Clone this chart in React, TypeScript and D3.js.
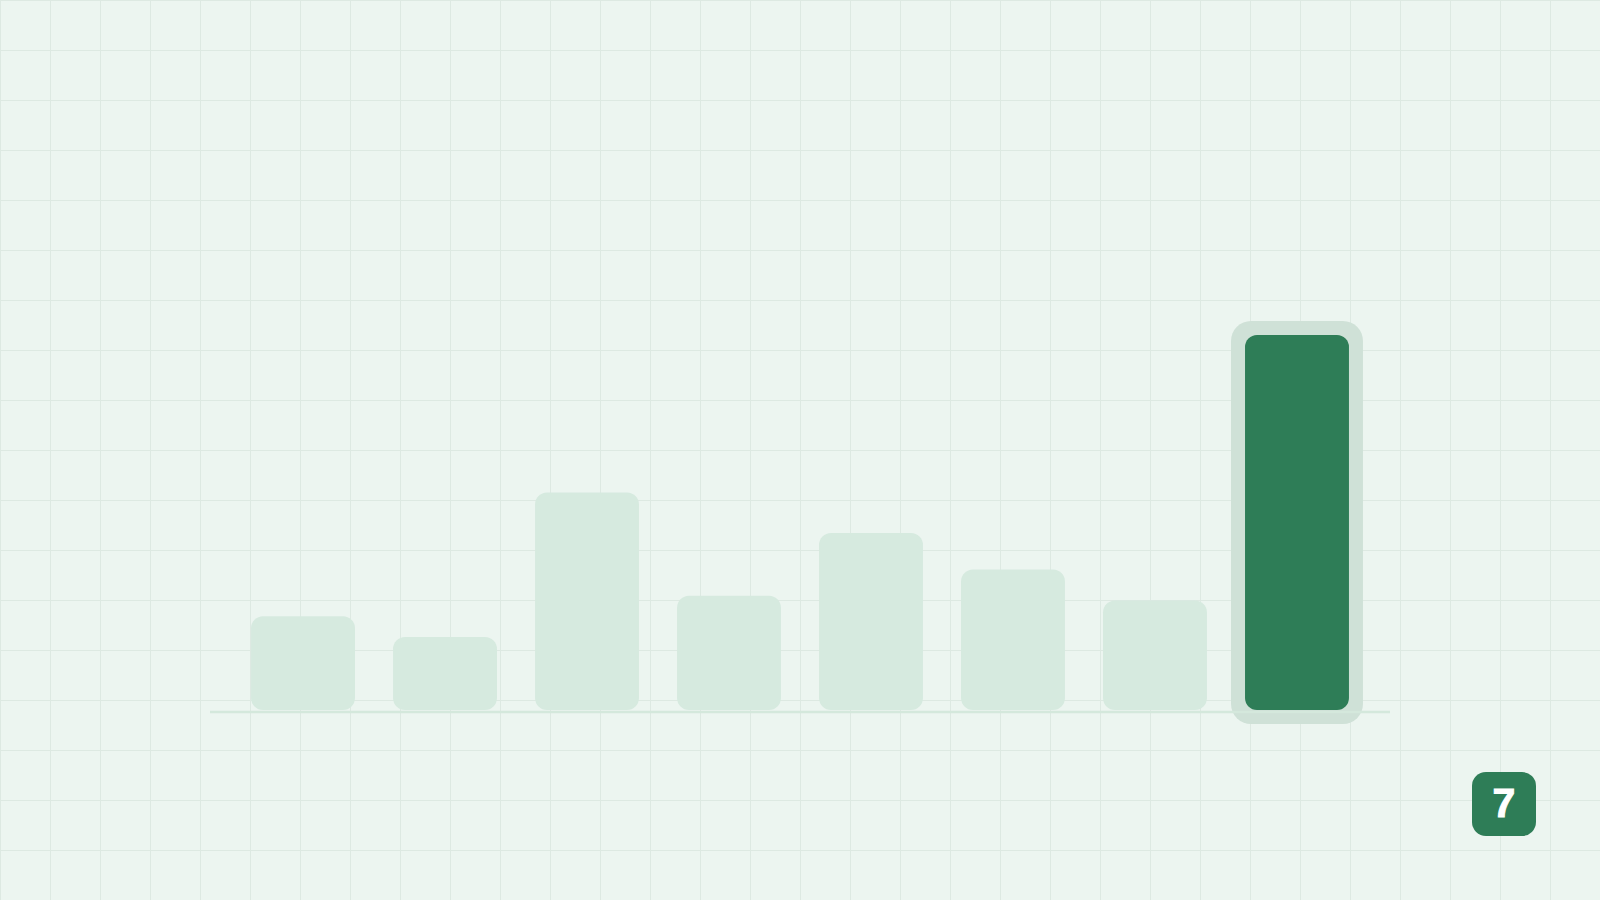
import * as d3 from "d3";

const W = 1600;
const H = 900;

// bar values (no axis, relative heights)
const categories = ["0", "1", "2", "3", "4", "5", "6", "7"];
const values = [25, 19.5, 58, 30.5, 47.2, 37.5, 29.2, 100];
const highlight = 7;

const gridStep = 50;

export default function App() {
  const x = d3
    .scaleBand<string>()
    .domain(categories)
    .range([210, 1390])
    .paddingInner(0.268)
    .paddingOuter(0.289);

  const y = d3.scaleLinear().domain([0, 100]).range([710, 335]);

  const vLines = d3.range(0, W + 1, gridStep);
  const hLines = d3.range(0, H + 1, gridStep);

  const hx = x(categories[highlight])!;
  const hTop = y(values[highlight]);
  const halo = 14;

  return (
    <svg
      width={W}
      height={H}
      style={{ position: "absolute", left: 0, top: 0, display: "block" }}
    >
      <rect width={W} height={H} fill="#ecf5f0" />
      <g stroke="#dde9e2" strokeWidth={1}>
        {vLines.map((v) => (
          <line key={"v" + v} x1={v + 0.5} x2={v + 0.5} y1={0} y2={H} />
        ))}
        {hLines.map((v) => (
          <line key={"h" + v} x1={0} x2={W} y1={v + 0.5} y2={v + 0.5} />
        ))}
      </g>

      {/* halo behind the highlighted bar */}
      <rect
        x={hx - halo}
        y={hTop - halo}
        width={x.bandwidth() + halo * 2}
        height={y(0) - hTop + halo * 2}
        rx={20}
        fill="#cfe1d7"
      />

      <line x1={210} x2={1390} y1={712} y2={712} stroke="#d4e8dc" strokeWidth={2.5} />

      {categories.map((c, i) => (
        <rect
          key={c}
          x={x(c)}
          y={y(values[i])}
          width={x.bandwidth()}
          height={y(0) - y(values[i])}
          rx={12}
          fill={i === highlight ? "#2e7d57" : "#d6eadf"}
        />
      ))}

      <rect x={1472} y={772} width={64} height={64} rx={14} fill="#2e7d57" />
      <text
        x={1504}
        y={817}
        textAnchor="middle"
        fill="#ffffff"
        stroke="#ffffff"
        strokeWidth={1}
        fontFamily="Liberation Sans, Arial, sans-serif"
        fontWeight="bold"
        fontSize={41}
      >
        {categories[highlight]}
      </text>
    </svg>
  );
}
